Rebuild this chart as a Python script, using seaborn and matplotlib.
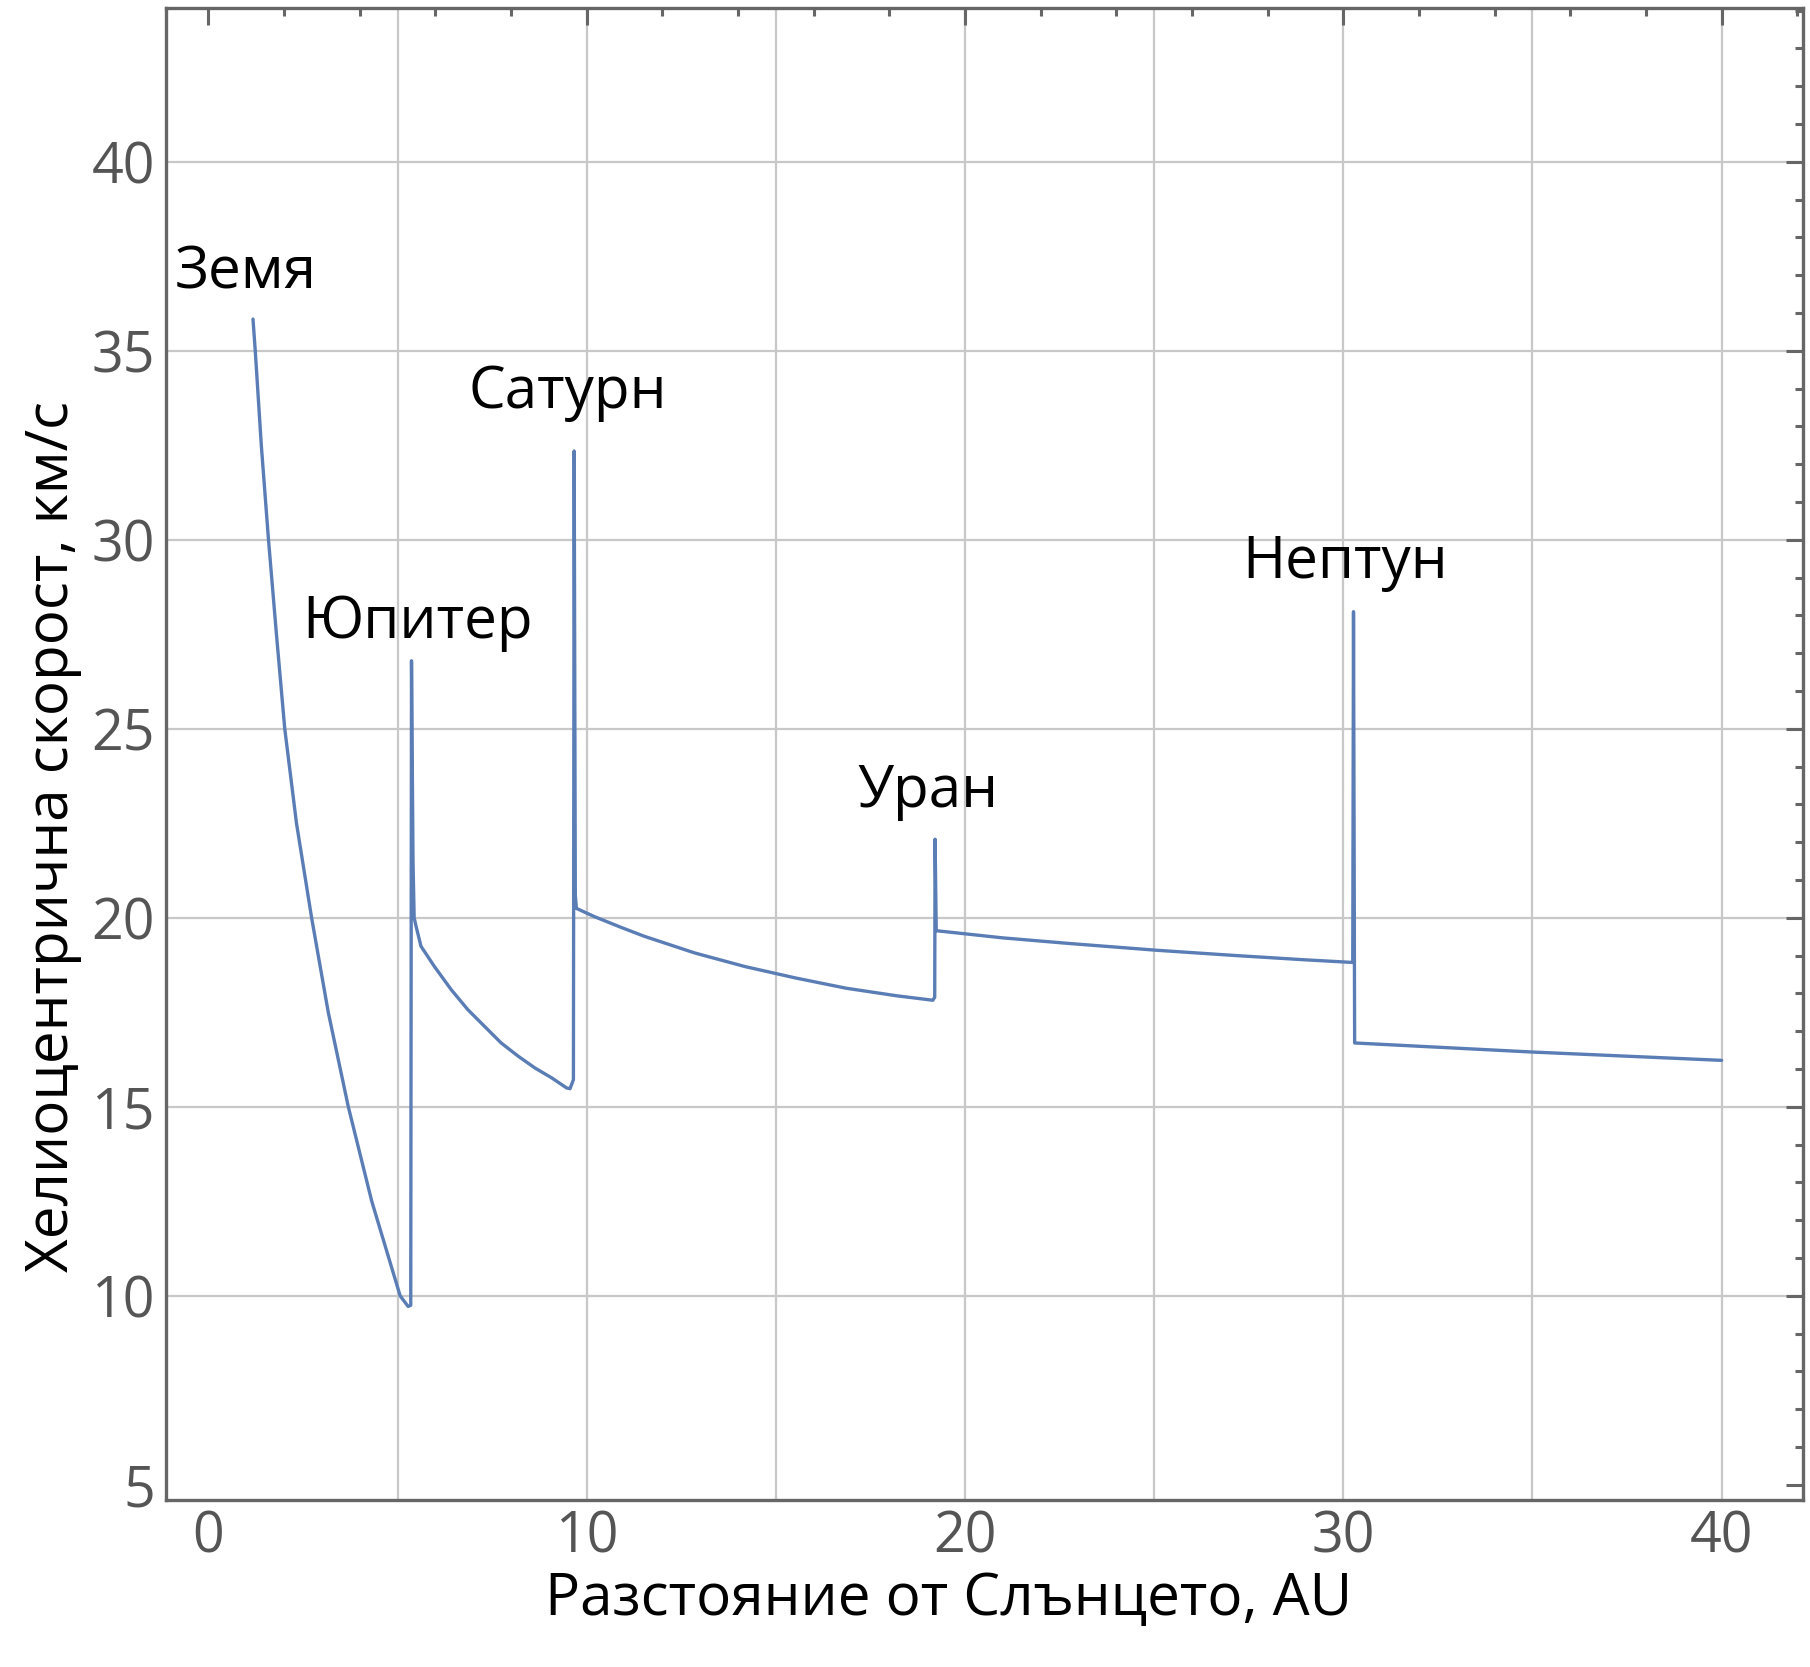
import matplotlib
matplotlib.use("Agg")
import matplotlib.pyplot as plt
import seaborn as sns
import pandas as pd
from matplotlib.ticker import MultipleLocator

# Heliocentric speed of the probe vs. distance from the Sun.
distance = [1.18, 1.24, 1.40, 1.59, 1.80, 2.02, 2.33, 2.73, 3.17, 3.70, 4.32, 5.07, 5.28,
            5.35, 5.37, 5.41, 5.44, 5.49, 5.62, 5.97, 6.42, 6.86, 7.30, 7.74, 8.19, 8.63, 9.07, 9.47, 9.56, 9.65,
            9.67, 9.70, 9.73, 10.21, 10.93, 11.53, 12.86, 14.19, 15.52, 16.85, 18.18, 19.15, 19.20,
            19.21, 19.24, 21.0, 22.78, 25.1, 27.2, 28.98, 30.25,
            30.27, 30.30, 35.0, 40.0]
speed = [35.84, 35.0, 32.5, 30.0, 27.5, 25.0, 22.5, 20.0, 17.5, 15.0, 12.5, 10.0, 9.72,
         9.75, 26.8, 21.5, 20.0, 19.78, 19.25, 18.72, 18.10, 17.57, 17.13, 16.69, 16.34, 16.03, 15.77, 15.50, 15.48, 15.72,
         32.35, 20.6, 20.25, 20.03, 19.74, 19.51, 19.07, 18.71, 18.41, 18.14, 17.94, 17.82, 17.9,
         22.08, 19.66, 19.47, 19.32, 19.14, 19.0, 18.89, 18.82,
         28.1, 16.69, 16.45, 16.23]

planets = ["Земя", "Юпитер", "Сатурн", "Уран", "Нептун"]

x_ticks = [0, 10, 20, 30, 40]
y_ticks = [5, 10, 15, 20, 25, 30, 35, 40]
grid_x = [5, 10, 15, 20, 25, 30, 35, 40]
grid_y = [10, 15, 20, 25, 30, 35, 40]

sns.set_style("white")
plt.rcParams['font.family'] = ['Open Sans', 'DejaVu Sans']

df = pd.DataFrame({"r": distance, "v": speed})

fig = plt.figure(figsize=(18.10, 16.67), dpi=100)
ax = fig.add_axes([0.0917, 0.1002, 0.9044, 0.895])

for gx in grid_x:
    ax.axvline(gx, color='#c8c8c8', lw=1.6, zorder=0)
for gy in grid_y:
    ax.axhline(gy, color='#c8c8c8', lw=1.6, zorder=0)

sns.lineplot(data=df, x="r", y="v", sort=False, estimator=None, color='#5a7db6', lw=2.4, ax=ax, zorder=3)

# planet labels, placed above each encounter
label_pos = [(1.0, 36.64), (5.53, 27.4), (9.5, 33.5), (19.03, 22.92), (30.04, 28.98)]
for name, (lx, ly) in zip(planets, label_pos):
    ax.text(lx, ly, name, ha='center', va='baseline', fontsize=42, color='black')

ax.set_xlim(-1.12, 42.15)
ax.set_ylim(4.6, 44.07)
ax.set_xticks(x_ticks)
ax.set_yticks(y_ticks)
ax.xaxis.set_minor_locator(MultipleLocator(2))
ax.yaxis.set_minor_locator(MultipleLocator(1))
ax.tick_params(which='both', direction='in', top=True, right=True, color='#666666', width=2.2)
ax.tick_params(which='major', length=12, labelsize=40, labelcolor='#555555')
ax.tick_params(which='minor', length=6)
ax.tick_params(axis='x', pad=7)
ax.tick_params(axis='y', pad=8)
for sp in ax.spines.values():
    sp.set_color('#666666')
    sp.set_linewidth(2.4)

ax.set_xlabel('Разстояние от Слънцето, AU', fontsize=42, color='black')
ax.set_ylabel('Хелиоцентрична скорост, км/с', fontsize=42, color='black')
ax.xaxis.set_label_coords(0.478, -0.047)
ax.yaxis.set_label_coords(-0.051, 0.445)

fig.savefig('out.png', dpi=100)
